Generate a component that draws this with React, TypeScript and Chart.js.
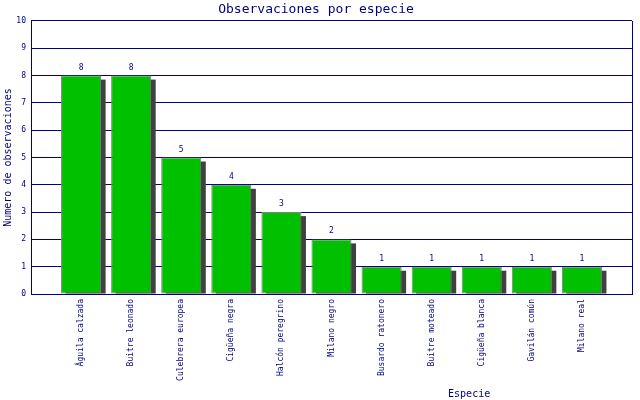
import { useEffect, useRef } from 'react';
import Chart from 'chart.js/auto';

// Species (first/last slots left empty so bars sit on whole-number positions)
const species = [
  '',
  'Águila calzada',
  'Buitre leonado',
  'Culebrera europea',
  'Cigüeña negra',
  'Halcón peregrino',
  'Milano negro',
  'Busardo ratonero',
  'Buitre moteado',
  'Cigüeña blanca',
  'Gavilán común',
  'Milano real',
  '',
];
const observations = [null, 8, 8, 5, 4, 3, 2, 1, 1, 1, 1, 1, null];
const yMin = 0;
const yMax = 10;

const NAVY = '#000080';
const MONO = "'DejaVu Sans Mono', monospace";

// Shadow behind each bar, value above it, x axis title
const decorations = {
  id: 'decorations',
  beforeDatasetsDraw(chart: Chart) {
    const ctx = chart.ctx;
    const meta = chart.getDatasetMeta(0);
    ctx.save();
    ctx.fillStyle = '#404040';
    meta.data.forEach((bar: any, i: number) => {
      if (observations[i] == null) return;
      const { x, y, base, width } = bar.getProps(['x', 'y', 'base', 'width'], true);
      ctx.fillRect(x - width / 2 + 4.5, y + 4, width, base - y - 4);
    });
    ctx.restore();
  },
  afterDatasetsDraw(chart: Chart) {
    const ctx = chart.ctx;
    const meta = chart.getDatasetMeta(0);
    ctx.save();
    ctx.fillStyle = NAVY;
    ctx.font = `8px ${MONO}`;
    ctx.textAlign = 'center';
    ctx.textBaseline = 'bottom';
    meta.data.forEach((bar: any, i: number) => {
      const v = observations[i];
      if (v == null) return;
      const { x, y } = bar.getProps(['x', 'y'], true);
      ctx.fillText(String(v), x, y - 4);
    });
    const area = chart.chartArea;
    ctx.font = `10px ${MONO}`;
    ctx.textBaseline = 'middle';
    ctx.fillText('Especie', area.left + (area.right - area.left) * 0.729, 394);
    ctx.restore();
  },
};

export default function App() {
  const canvasRef = useRef<HTMLCanvasElement>(null);

  useEffect(() => {
    document.body.style.margin = '0';
    if (!canvasRef.current) return;
    const chart = new Chart(canvasRef.current, {
      type: 'bar',
      data: {
        labels: species,
        datasets: [
          {
            data: observations,
            backgroundColor: '#00C000',
            borderColor: '#808080',
            borderWidth: 1,
            borderSkipped: false,
            categoryPercentage: 0.8,
            barPercentage: 1,
          },
        ],
      },
      options: {
        animation: false,
        responsive: true,
        maintainAspectRatio: false,
        layout: { padding: { left: 0, right: 8, top: 0, bottom: 0 } },
        plugins: {
          legend: { display: false },
          tooltip: { enabled: false },
          title: {
            display: true,
            text: 'Observaciones por especie',
            color: NAVY,
            font: { family: MONO, size: 13, weight: 'normal', lineHeight: 1.23 },
            padding: { top: 2, bottom: 3 },
          },
        },
        scales: {
          x: {
            type: 'category',
            offset: false,
            grid: {
              offset: false,
              drawTicks: false,
              color: (c: any) => (c.index === species.length - 1 ? NAVY : 'rgba(0,0,0,0)'),
            },
            border: { color: NAVY },
            ticks: {
              autoSkip: false,
              minRotation: 90,
              maxRotation: 90,
              padding: 5,
              color: NAVY,
              font: { family: MONO, size: 8 },
            },
            afterFit(scale: any) {
              scale.height = 106;
              scale.paddingLeft = 0;
              scale.paddingRight = 0;
            },
          },
          y: {
            min: yMin,
            max: yMax,
            ticks: {
              stepSize: 1,
              padding: 5,
              color: NAVY,
              font: { family: MONO, size: 8 },
            },
            grid: { color: NAVY, drawTicks: false },
            border: { color: NAVY },
            title: {
              display: true,
              text: 'Numero de observaciones',
              color: NAVY,
              font: { family: MONO, size: 10 },
              padding: { top: 2, bottom: 0 },
            },
            afterFit(scale: any) {
              scale.width = 31;
            },
          },
        },
      },
      plugins: [decorations],
    });
    return () => chart.destroy();
  }, []);

  return (
    <div style={{ width: 640, height: 400, position: 'relative', background: '#fff' }}>
      <canvas ref={canvasRef} />
    </div>
  );
}
